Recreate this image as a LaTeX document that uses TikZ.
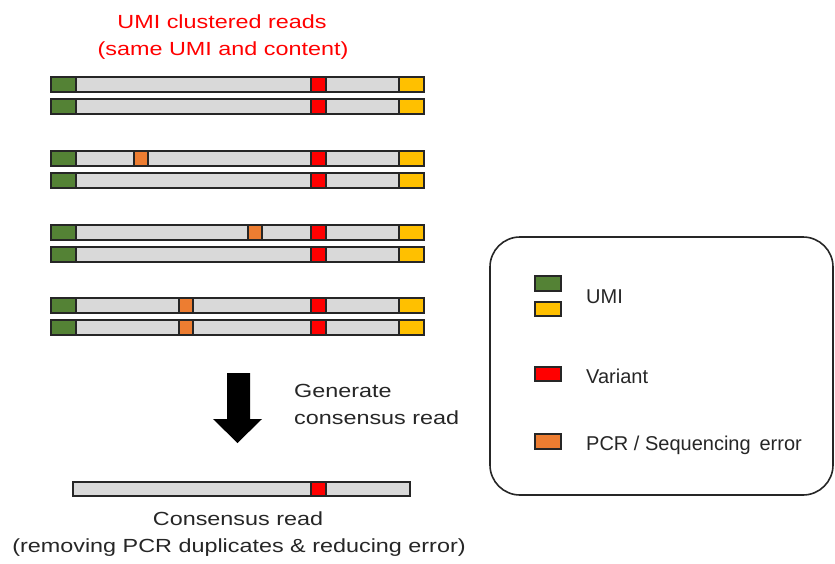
\documentclass[tikz,border=0pt]{standalone}
\usepackage{fontspec}
\setmainfont{Liberation Sans}
\definecolor{umigreen}{HTML}{548235}
\definecolor{umiyellow}{HTML}{FFC000}
\definecolor{varred}{HTML}{FF0000}
\definecolor{errorange}{HTML}{ED7D31}
\definecolor{readgray}{HTML}{D9D9D9}
\definecolor{edge}{HTML}{262626}
\tikzset{
  seg/.style={draw=edge, line width=1.4pt},
  lbl/.style={font=\fontsize{19}{22}\selectfont, inner sep=0pt},
  leg/.style={font=\fontsize{20}{24}\selectfont, inner sep=0pt, anchor=base west, text=edge},
}
\newcommand\wide[1]{\scalebox{1.23}[1]{#1}}
% read: #1 = top y, #2 = orange left x (or none)
\newcommand\umiread[2]{%
  \fill[readgray,seg] (51,#1) rectangle (424,#1+15);
  \fill[umigreen,seg] (51,#1) rectangle (76,#1+15);
  \fill[varred,seg] (311,#1) rectangle (326,#1+15);
  \fill[umiyellow,seg] (399,#1) rectangle (424,#1+15);
  \ifx\relax#2\relax\else
  \fill[errorange,seg] (#2,#1) rectangle (#2+14,#1+15);
  \fi
}
\begin{document}
\begin{tikzpicture}[x=1pt,y=-1pt]
\useasboundingbox (0,0) rectangle (835,563);
% title
\node[lbl, text=varred, anchor=base] (title1) at (222,28) {\wide{UMI clustered reads}};
\node[lbl, text=varred, anchor=base] (title2) at (223,55) {\wide{(same UMI and content)}};
% reads
\umiread{77}{}
\umiread{99}{}
\umiread{151}{134}
\umiread{173}{}
\umiread{225}{248}
\umiread{247}{}
\umiread{298}{179}
\umiread{320}{179}
% block arrow
\fill[black] (227,373) -- (250,373) -- (250,419) -- (262,419) -- (237.5,443) -- (213,419) -- (227,419) -- cycle;
\node[lbl, anchor=base west, text=edge] (gen1) at (294,397) {\wide{Generate}};
\node[lbl, anchor=base west, text=edge] (gen2) at (294,424) {\wide{consensus read}};
% consensus read
\fill[readgray,seg] (73,482) rectangle (410,496);
\fill[varred,seg] (311,482) rectangle (326,496);
\node[lbl, anchor=base, text=edge] (cons1) at (238,525) {\wide{Consensus read}};
\node[lbl, anchor=base, text=edge] (cons2) at (239,552) {\wide{(removing PCR duplicates \& reducing error)}};
% legend
\draw[edge, line width=1.6pt, rounded corners=30pt] (490,237) rectangle (833,495);
\fill[umigreen,seg] (535,276) rectangle (561,291);
\fill[umiyellow,seg] (535,302) rectangle (561,316);
\fill[varred,seg] (535,367) rectangle (561,381);
\fill[errorange,seg] (535,434) rectangle (561,449);
\node[leg] (lumi) at (586,303) {UMI};
\node[leg] (lvar) at (586,383) {Variant};
\node[leg] (lerr) at (586,450) {PCR / Sequencing\ \,error};
\end{tikzpicture}
\end{document}
